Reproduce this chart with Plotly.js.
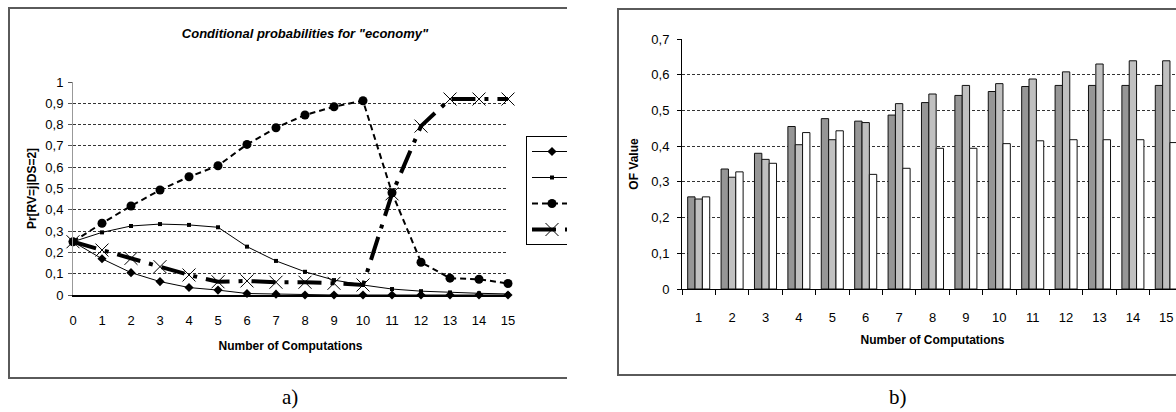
<!DOCTYPE html>
<html><head><meta charset="utf-8">
<script src="https://cdn.plot.ly/plotly-3.0.1.min.js"></script>
<style>
html,body{margin:0;padding:0;width:1176px;height:412px;overflow:hidden;background:#fff;}
.wrap{position:absolute;top:0;height:412px;overflow:hidden;}
.frame{position:absolute;border:2px solid #5a5a5a;box-sizing:border-box;}
.chart{position:absolute;left:0;top:0;height:412px;}
.lab{position:absolute;font-family:"Liberation Serif","Times New Roman",serif;font-size:21px;color:#000;}
</style></head>
<body>
<div class="wrap" style="left:0;width:567px;">
  <div class="frame" style="left:8px;top:7px;width:700px;height:372px;"></div>
  <div id="chartA" class="chart" style="width:620px;"></div>
</div>
<div class="wrap" style="left:590px;width:586px;">
  <div class="frame" style="left:27px;top:8px;width:700px;height:368px;"></div>
  <div id="chartB" class="chart" style="width:600px;"></div>
</div>
<div class="lab" style="left:282px;top:385px;">a)</div>
<div class="lab" style="left:889px;top:385px;">b)</div>
<script>
// ---- Panel a data ----
const computationsA = [0,1,2,3,4,5,6,7,8,9,10,11,12,13,14,15];
const probRV0 = [0.25,0.17,0.105,0.063,0.035,0.023,0.007,0.004,0,0,0,0,0,0,0,0];
const probRV1 = [0.25,0.294,0.324,0.333,0.329,0.318,0.227,0.16,0.109,0.07,0.047,0.028,0.018,0.012,0.008,0.005];
const probRV2 = [0.25,0.337,0.418,0.493,0.555,0.607,0.707,0.785,0.845,0.884,0.912,0.48,0.154,0.079,0.074,0.054];
const probRV3 = [0.25,0.211,0.172,0.133,0.094,0.062,0.066,0.06,0.06,0.055,0.047,0.475,0.793,0.92,0.92,0.92];
const yTickValsA = [0,0.1,0.2,0.3,0.4,0.5,0.6,0.7,0.8,0.9,1];
const yTickTextA = ["0","0,1","0,2","0,3","0,4","0,5","0,6","0,7","0,8","0,9","1"];
const titleA = 'Conditional probabilities for "economy"';

// ---- Panel b data ----
const computationsB = ["1","2","3","4","5","6","7","8","9","10","11","12","13","14","15"];
const ofDark  = [0.258,0.336,0.380,0.455,0.477,0.470,0.487,0.522,0.542,0.553,0.567,0.570,0.570,0.570,0.570];
const ofLight = [0.252,0.313,0.363,0.404,0.418,0.466,0.519,0.546,0.570,0.575,0.588,0.608,0.630,0.639,0.639];
const ofWhite = [0.258,0.328,0.352,0.438,0.443,0.321,0.338,0.394,0.394,0.407,0.415,0.418,0.418,0.418,0.410];
const yTickValsB = [0,0.1,0.2,0.3,0.4,0.5,0.6,0.7];
const yTickTextB = ["0","0,1","0,2","0,3","0,4","0,5","0,6","0,7"];

const NARROW = '"Liberation Sans Narrow","Arial Narrow","Liberation Sans",Arial,sans-serif';
const tickFont = {family: NARROW, size: 13, color: '#000'};
const titleFont = {family: NARROW, size: 12, color: '#000', weight: 'bold'};

const tracesA = [
  {x: computationsA, y: probRV0, name: '', legendgroup: 'a', mode: 'lines+markers', cliponaxis: false,
   line: {color: '#000', width: 1}, marker: {symbol: 'diamond', size: 7, color: '#000'}},
  {x: computationsA, y: probRV1, name: '', legendgroup: 'b', mode: 'lines+markers', cliponaxis: false,
   line: {color: '#000', width: 1}, marker: {symbol: 'square', size: 4, color: '#000'}},
  {x: computationsA, y: probRV2, name: '', legendgroup: 'c', mode: 'lines+markers', cliponaxis: false,
   line: {color: '#000', width: 2, dash: '6px,4px'}, marker: {symbol: 'circle', size: 9, color: '#000'}},
  {x: computationsA, y: probRV3, name: '', legendgroup: 'd', mode: 'lines+markers', cliponaxis: false,
   line: {color: '#000', width: 4, dash: '24px,9px,4px,9px'},
   marker: {symbol: 'x-thin-open', size: 13, color: '#000', line: {color: '#000', width: 1}}}
];

const layoutA = {
  width: 620, height: 412,
  margin: {l: 73, r: 112, t: 82, b: 117},
  paper_bgcolor: 'rgba(0,0,0,0)', plot_bgcolor: 'rgba(0,0,0,0)',
  title: {text: titleA, x: 305/620, xref: 'container', xanchor: 'center', y: 1 - 33/412, yanchor: 'middle',
          font: {family: NARROW, size: 13, color: '#000', weight: 'bold', style: 'italic'}},
  xaxis: {range: [0, 15], tickvals: computationsA, ticks: '', showgrid: false, zeroline: false,
          showline: true, linecolor: '#000', linewidth: 2, tickfont: tickFont, ticklabelstandoff: 12,
          title: {text: 'Number of Computations', font: titleFont, standoff: 15}},
  yaxis: {range: [0, 1], tickvals: yTickValsA, ticktext: yTickTextA, ticks: 'outside', ticklen: 4, tickcolor: '#555',
          showgrid: true, gridcolor: '#333', griddash: '3px,2px', gridwidth: 1, zeroline: false,
          showline: true, linecolor: '#999', linewidth: 1, tickfont: tickFont, ticklabelstandoff: 2,
          title: {text: 'Pr[RV=j|DS=2]', font: titleFont, standoff: 6}},
  showlegend: true,
  legend: {x: (526-73)/435, xanchor: 'left', y: (295-136)/213, yanchor: 'top',
           bordercolor: '#000', borderwidth: 1, bgcolor: '#fff', traceorder: 'grouped', tracegroupgap: 7,
           itemwidth: 40, font: {family: NARROW, size: 12}}
};

const tracesB = [
  {x: computationsB, y: ofDark, type: 'bar', name: '', marker: {color: '#969696', line: {color: '#111', width: 1}}},
  {x: computationsB, y: ofLight, type: 'bar', name: '', marker: {color: '#c0c0c0', line: {color: '#111', width: 1}}},
  {x: computationsB, y: ofWhite, type: 'bar', name: '', marker: {color: '#ffffff', line: {color: '#111', width: 1}}}
];

const layoutB = {
  width: 600, height: 412,
  margin: {l: 92, r: 7, t: 39, b: 123},
  paper_bgcolor: 'rgba(0,0,0,0)', plot_bgcolor: 'rgba(0,0,0,0)',
  barmode: 'group', bargap: 0.34, bargroupgap: 0,
  showlegend: false,
  xaxis: {type: 'category', range: [-0.5, 14.5], ticks: 'outside', tickson: 'boundaries', ticklen: 5, tickcolor: '#000',
          showgrid: false, zeroline: false, showline: true, linecolor: '#000', linewidth: 1,
          tickfont: tickFont, ticklabelstandoff: 16,
          title: {text: 'Number of Computations', font: titleFont, standoff: 12}},
  yaxis: {range: [0, 0.7], tickvals: yTickValsB, ticktext: yTickTextB, ticks: 'outside', ticklen: 4, tickcolor: '#000',
          showgrid: true, gridcolor: '#333', griddash: '3px,2px', gridwidth: 1, zeroline: false,
          showline: true, linecolor: '#000', linewidth: 1, tickfont: tickFont, ticklabelstandoff: 5,
          title: {text: 'OF Value', font: titleFont, standoff: 10}}
};

Plotly.newPlot('chartA', tracesA, layoutA, {staticPlot: true});
Plotly.newPlot('chartB', tracesB, layoutB, {staticPlot: true});
</script>
</body></html>
